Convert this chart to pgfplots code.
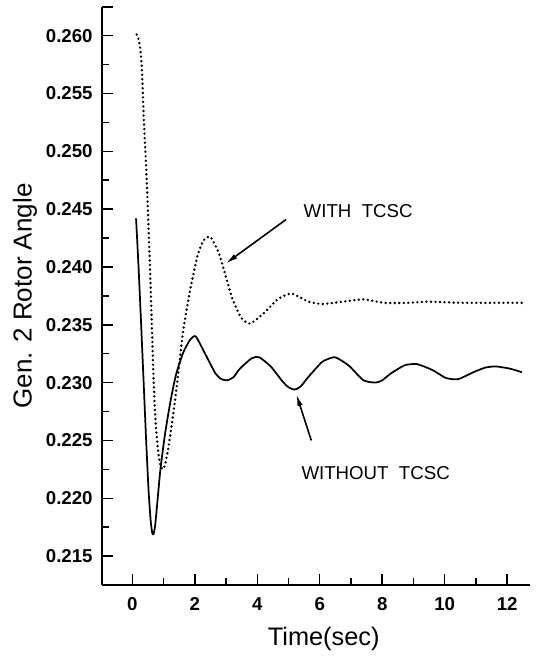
\documentclass[border=0pt]{standalone}
\usepackage{fontspec}
\setmainfont{Liberation Sans}
\usepackage{pgfplots}
\pgfplotsset{compat=1.18}
\usetikzlibrary{arrows.meta}
\begin{document}
\begin{tikzpicture}
\begin{axis}[
  width=321pt, height=433.5pt, scale only axis,
  xmin=-0.97, xmax=12.73, ymin=0.2125, ymax=0.26248,
  axis lines=left, axis line style={line width=1.2pt, -},
  xtick={0,2,...,12}, ytick={0.215,0.220,...,0.2601},
  extra y ticks={0.26248}, extra y tick labels={},
  minor x tick num=1, minor y tick num=1,
  tick align=inside,
  major tick length=8pt, minor tick length=5pt,
  every tick/.style={line width=1.1pt, black},
  scaled y ticks=false,
  tick label style={font=\bfseries\fontsize{14}{16}\selectfont},
  yticklabel style={xshift=-3.5pt},
  xticklabel style={yshift=-6pt},
  y tick label style={/pgf/number format/.cd, fixed, fixed zerofill, precision=3},
  /pgf/number format/assume math mode=true,
  clip=false,
]
\addplot[black, line width=1.3pt, smooth, tension=0.35] coordinates {
(0.12,0.2442) (0.20,0.2400) (0.28,0.2352) (0.36,0.2302) (0.44,0.2252) (0.52,0.2207) (0.59,0.2180) (0.64,0.2170) (0.68,0.2169) (0.73,0.2176) (0.80,0.2196) (0.90,0.2225) (1.05,0.2256) (1.23,0.2285) (1.40,0.2307) (1.63,0.2326) (1.85,0.2337) (2.03,0.2340) (2.33,0.2325) (2.66,0.2308) (2.85,0.2303) (3.05,0.2302) (3.25,0.2305) (3.44,0.2312) (3.82,0.2321) (4.06,0.2322) (4.43,0.2314) (4.81,0.2301) (5.0,0.2296) (5.20,0.2294) (5.4,0.2297) (5.64,0.2305) (6.08,0.2318) (6.46,0.2322) (6.7,0.2319) (6.96,0.2314) (7.40,0.2302) (7.79,0.2300) (8.0,0.2302) (8.28,0.2308) (8.72,0.2315) (9.11,0.2316) (9.60,0.2311) (10.04,0.2304) (10.43,0.2303) (10.92,0.2309) (11.3,0.2313) (11.64,0.2314) (12.1,0.2312) (12.47,0.2309)
};
\addplot[black, line width=2pt, line cap=round, dash pattern=on 0pt off 3.4pt, smooth, tension=0.35] coordinates {
(0.14,0.2601) (0.21,0.2596) (0.26,0.2587) (0.30,0.2574) (0.33,0.2556) (0.36,0.2533) (0.40,0.2510) (0.44,0.2488) (0.48,0.2462) (0.52,0.2434) (0.57,0.2397) (0.62,0.2354) (0.67,0.2311) (0.72,0.2278) (0.78,0.2254) (0.84,0.2238) (0.90,0.2229) (0.97,0.2225) (1.05,0.2229) (1.15,0.2243) (1.26,0.2263) (1.37,0.2285) (1.47,0.2308) (1.63,0.2345) (1.85,0.2380) (2.09,0.2410) (2.28,0.2423) (2.50,0.2426) (2.77,0.2412) (2.99,0.2392) (3.21,0.2372) (3.49,0.2356) (3.77,0.2351) (4.21,0.2360) (4.65,0.2372) (5.09,0.2377) (5.64,0.2370) (6.08,0.2368) (6.74,0.2370) (7.40,0.2372) (8.06,0.2369) (8.8,0.2369) (9.49,0.2370) (10.5,0.2369) (11.5,0.2369) (12.47,0.2369)
};
\node[font=\fontsize{14}{16}\selectfont] at (axis cs:7.23,0.2448) {WITH\ \ TCSC};
\draw[line width=1.2pt, -{Latex[length=9pt,width=4pt]}] (axis cs:4.92,0.2441) -- (axis cs:2.99,0.2403);
\node[font=\fontsize{14}{16}\selectfont] at (axis cs:7.79,0.2222) {WITHOUT\ \ TCSC};
\draw[line width=1.2pt, -{Latex[length=9pt,width=4pt]}] (axis cs:5.73,0.2250) -- (axis cs:5.25,0.2290);
\node[rotate=90, inner sep=0pt, font=\fontsize{19.5}{22}\selectfont] at ([xshift=-57.75pt]rel axis cs:0,0.5) {Gen. 2 Rotor Angle};
\node[anchor=base, inner sep=0pt, font=\fontsize{19}{22}\selectfont] at ([yshift=-45pt]rel axis cs:0.518,0) {Time(sec)};
\path ([xshift=-76.5pt,yshift=-54pt]rel axis cs:0,0) ([xshift=8.25pt,yshift=5.25pt]rel axis cs:1,1);
\end{axis}
\end{tikzpicture}
\end{document}
